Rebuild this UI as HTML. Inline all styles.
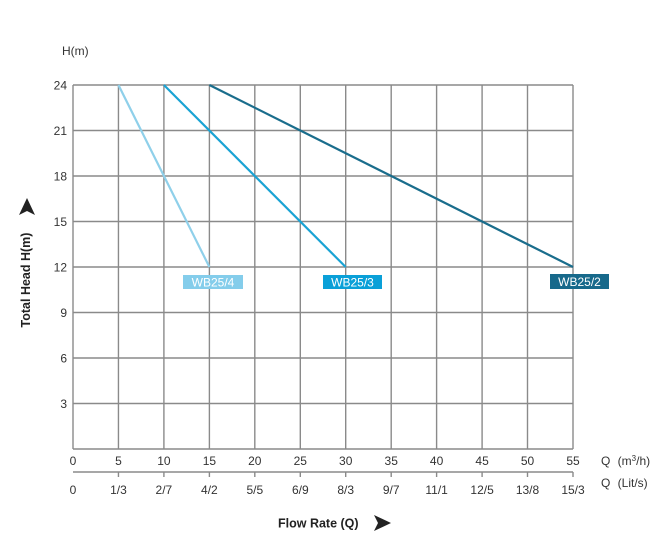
<!DOCTYPE html>
<html><head><meta charset="utf-8"><style>
html,body{margin:0;padding:0;background:#fff;}
svg{display:block;}
text{font-family:"Liberation Sans",Arial,sans-serif;}
</style></head><body>
<svg width="667" height="556" viewBox="0 0 667 556" xmlns="http://www.w3.org/2000/svg">
<rect width="667" height="556" fill="#fff"/>
<g stroke="#8a8a8a" stroke-width="1.4" fill="none">
<!-- horizontal grid -->
<line x1="73" y1="85" x2="573" y2="85"/>
<line x1="73" y1="130.5" x2="573" y2="130.5"/>
<line x1="73" y1="176" x2="573" y2="176"/>
<line x1="73" y1="221.5" x2="573" y2="221.5"/>
<line x1="73" y1="267" x2="573" y2="267"/>
<line x1="73" y1="312.5" x2="573" y2="312.5"/>
<line x1="73" y1="358" x2="573" y2="358"/>
<line x1="73" y1="403.5" x2="573" y2="403.5"/>
<line x1="73" y1="449" x2="573" y2="449"/>
<!-- vertical grid -->
<line x1="73" y1="85" x2="73" y2="449"/>
<line x1="118.45" y1="85" x2="118.45" y2="449"/>
<line x1="163.9" y1="85" x2="163.9" y2="449"/>
<line x1="209.4" y1="85" x2="209.4" y2="449"/>
<line x1="254.8" y1="85" x2="254.8" y2="449"/>
<line x1="300.3" y1="85" x2="300.3" y2="449"/>
<line x1="345.7" y1="85" x2="345.7" y2="449"/>
<line x1="391.2" y1="85" x2="391.2" y2="449"/>
<line x1="436.6" y1="85" x2="436.6" y2="449"/>
<line x1="482.1" y1="85" x2="482.1" y2="449"/>
<line x1="527.5" y1="85" x2="527.5" y2="449"/>
<line x1="573" y1="85" x2="573" y2="449"/>
<!-- secondary axis -->
<line x1="73" y1="472" x2="573" y2="472"/>
<line x1="118.45" y1="472" x2="118.45" y2="477"/>
<line x1="163.9" y1="472" x2="163.9" y2="477"/>
<line x1="209.4" y1="472" x2="209.4" y2="477"/>
<line x1="254.8" y1="472" x2="254.8" y2="477"/>
<line x1="300.3" y1="472" x2="300.3" y2="477"/>
<line x1="345.7" y1="472" x2="345.7" y2="477"/>
<line x1="391.2" y1="472" x2="391.2" y2="477"/>
<line x1="436.6" y1="472" x2="436.6" y2="477"/>
<line x1="482.1" y1="472" x2="482.1" y2="477"/>
<line x1="527.5" y1="472" x2="527.5" y2="477"/>
<line x1="573" y1="472" x2="573" y2="477"/>
</g>
<!-- curves -->
<line x1="118.45" y1="85" x2="209.4" y2="267" stroke="#8fd0ea" stroke-width="2.2"/>
<line x1="163.9" y1="85" x2="345.7" y2="267" stroke="#1aa3d4" stroke-width="2.2"/>
<line x1="209.4" y1="85" x2="573" y2="267" stroke="#1a6d8c" stroke-width="2.2"/>
<!-- legend labels -->
<rect x="183" y="275" width="60" height="14" fill="#84cdeb"/>
<text x="213" y="286.5" font-size="12" fill="#fff" text-anchor="middle">WB25/4</text>
<rect x="323" y="275" width="59" height="14" fill="#0aa0d8"/>
<text x="352.5" y="286.5" font-size="12" fill="#fff" text-anchor="middle">WB25/3</text>
<rect x="550" y="274" width="59" height="15" fill="#17698b"/>
<text x="579.5" y="286" font-size="12" fill="#fff" text-anchor="middle">WB25/2</text>
<!-- y labels -->
<g font-size="12" fill="#333" text-anchor="end">
<text x="67" y="89.5">24</text>
<text x="67" y="135">21</text>
<text x="67" y="180.5">18</text>
<text x="67" y="226">15</text>
<text x="67" y="271.5">12</text>
<text x="67" y="317">9</text>
<text x="67" y="362.5">6</text>
<text x="67" y="408">3</text>
</g>
<text x="62" y="55" font-size="12" fill="#333">H(m)</text>
<!-- x labels row 1 -->
<g font-size="12" fill="#333" text-anchor="middle">
<text x="73" y="465">0</text>
<text x="118.45" y="465">5</text>
<text x="163.9" y="465">10</text>
<text x="209.4" y="465">15</text>
<text x="254.8" y="465">20</text>
<text x="300.3" y="465">25</text>
<text x="345.7" y="465">30</text>
<text x="391.2" y="465">35</text>
<text x="436.6" y="465">40</text>
<text x="482.1" y="465">45</text>
<text x="527.5" y="465">50</text>
<text x="573" y="465">55</text>
</g>
<g font-size="12" fill="#333" text-anchor="middle">
<text x="73" y="494">0</text>
<text x="118.45" y="494">1/3</text>
<text x="163.9" y="494">2/7</text>
<text x="209.4" y="494">4/2</text>
<text x="254.8" y="494">5/5</text>
<text x="300.3" y="494">6/9</text>
<text x="345.7" y="494">8/3</text>
<text x="391.2" y="494">9/7</text>
<text x="436.6" y="494">11/1</text>
<text x="482.1" y="494">12/5</text>
<text x="527.5" y="494">13/8</text>
<text x="573" y="494">15/3</text>
</g>
<text x="601" y="465" font-size="12" fill="#333">Q <tspan dx="4">(m</tspan><tspan font-size="8" dy="-4">3</tspan><tspan dy="4">/h)</tspan></text>
<text x="601" y="487" font-size="12" fill="#333">Q <tspan dx="4">(Lit/s)</tspan></text>
<!-- axis titles -->
<text x="278" y="527.5" font-size="12.5" font-weight="bold" fill="#222">Flow Rate (Q)</text>
<polygon points="374,515 391,523 374,531 378,523" fill="#222"/>
<text transform="translate(30,280) rotate(-90)" font-size="12.5" font-weight="bold" fill="#222" text-anchor="middle">Total Head H(m)</text>
<polygon points="27,198 35,215 27,211 19,215" fill="#222"/>
</svg>
</body></html>
